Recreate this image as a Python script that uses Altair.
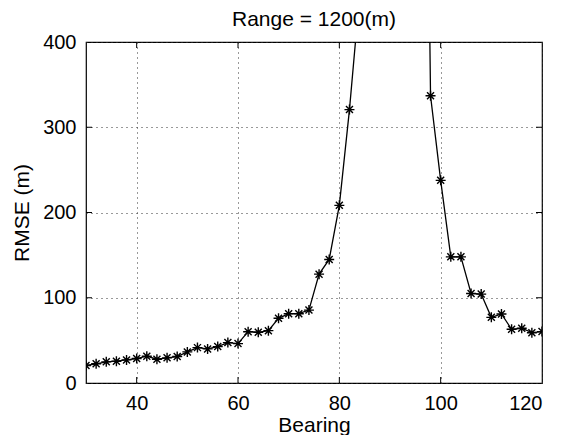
import altair as alt
import pandas as pd

bearing = [30, 32, 34, 36, 38, 40, 42, 44, 46, 48, 50, 52, 54, 56, 58, 60,
           62, 64, 66, 68, 70, 72, 74, 76, 78, 80, 82, 84, 86, 88, 90, 92,
           94, 96, 98, 100, 102, 104, 106, 108, 110, 112, 114, 116, 118, 120]
rmse = [20.5, 22.5, 24.8, 25.6, 27.1, 28.7, 31.4, 27.9, 29.5, 31.0, 36.5, 41.5,
        40.0, 42.7, 47.4, 46.2, 60.2, 59.5, 61.4, 75.9, 81.3, 81.3, 85.5, 127.7,
        144.9, 208.4, 320.7, 455, 800, 1400, 2000, 2200, 1800, 1300, 337.0,
        237.7, 148.0, 148.0, 105.0, 104.3, 77.0, 81.0, 63.0, 64.2, 59.0, 60.3]

x_ticks = [40, 60, 80, 100, 120]
y_ticks = [0, 100, 200, 300, 400]

df = pd.DataFrame({"bearing": bearing, "rmse": rmse})

xs = alt.Scale(domain=[30, 120], nice=False, zero=False)
ys = alt.Scale(domain=[0, 400], nice=False)

star = "M-1,0L1,0M0,-1L0,1M-0.7,-0.7L0.7,0.7M-0.7,0.7L0.7,-0.7"

base = alt.Chart(df)

line = base.mark_line(color="black", strokeWidth=1.3, clip=True).encode(
    x=alt.X("bearing:Q", scale=xs, title="Bearing",
            axis=alt.Axis(values=x_ticks)),
    y=alt.Y("rmse:Q", scale=ys, title="RMSE (m)",
            axis=alt.Axis(values=y_ticks)),
)

pts = base.mark_point(shape=star, color="black", size=100, strokeWidth=1.4,
                      filled=False, clip=True, opacity=1).encode(
    x=alt.X("bearing:Q", scale=xs),
    y=alt.Y("rmse:Q", scale=ys),
)

xt = pd.DataFrame({"t": x_ticks[:-1]})
yt = pd.DataFrame({"t": y_ticks[1:-1]})

tick_bottom = alt.Chart(xt).mark_rule(color="black", strokeWidth=1).encode(
    x=alt.X("t:Q", scale=xs), y=alt.value(341), y2=alt.value(335))
tick_top = alt.Chart(xt).mark_rule(color="black", strokeWidth=1).encode(
    x=alt.X("t:Q", scale=xs), y=alt.value(0), y2=alt.value(6))
tick_left = alt.Chart(yt).mark_rule(color="black", strokeWidth=1).encode(
    y=alt.Y("t:Q", scale=ys), x=alt.value(0), x2=alt.value(6))
tick_right = alt.Chart(yt).mark_rule(color="black", strokeWidth=1).encode(
    y=alt.Y("t:Q", scale=ys), x=alt.value(456), x2=alt.value(450))

chart = alt.layer(line, pts, tick_bottom, tick_top, tick_left, tick_right).properties(
    width=456, height=341,
    title=alt.TitleParams("Range = 1200(m)", fontSize=21, font="Liberation Sans",
                          fontWeight="normal", color="black", offset=2),
    autosize=alt.AutoSizeParams(type="none"),
    padding={"left": 78, "top": 34, "right": 13, "bottom": 52},
).configure_view(
    stroke="black", strokeWidth=1.2
).configure_axis(
    labelFont="Liberation Sans", labelFontSize=20, labelColor="black",
    titleFont="Liberation Sans", titleFontSize=21, titleFontWeight="normal",
    titleColor="black", domain=False, ticks=False, labelPadding=10,
    grid=True, gridColor="#333333", gridDash=[1, 4], gridWidth=1, gridOpacity=1,
).configure_axisX(
    titlePadding=1
).configure_axisY(
    titlePadding=10
)

chart.save("out.html", embed_options={"renderer": "svg", "actions": False})
